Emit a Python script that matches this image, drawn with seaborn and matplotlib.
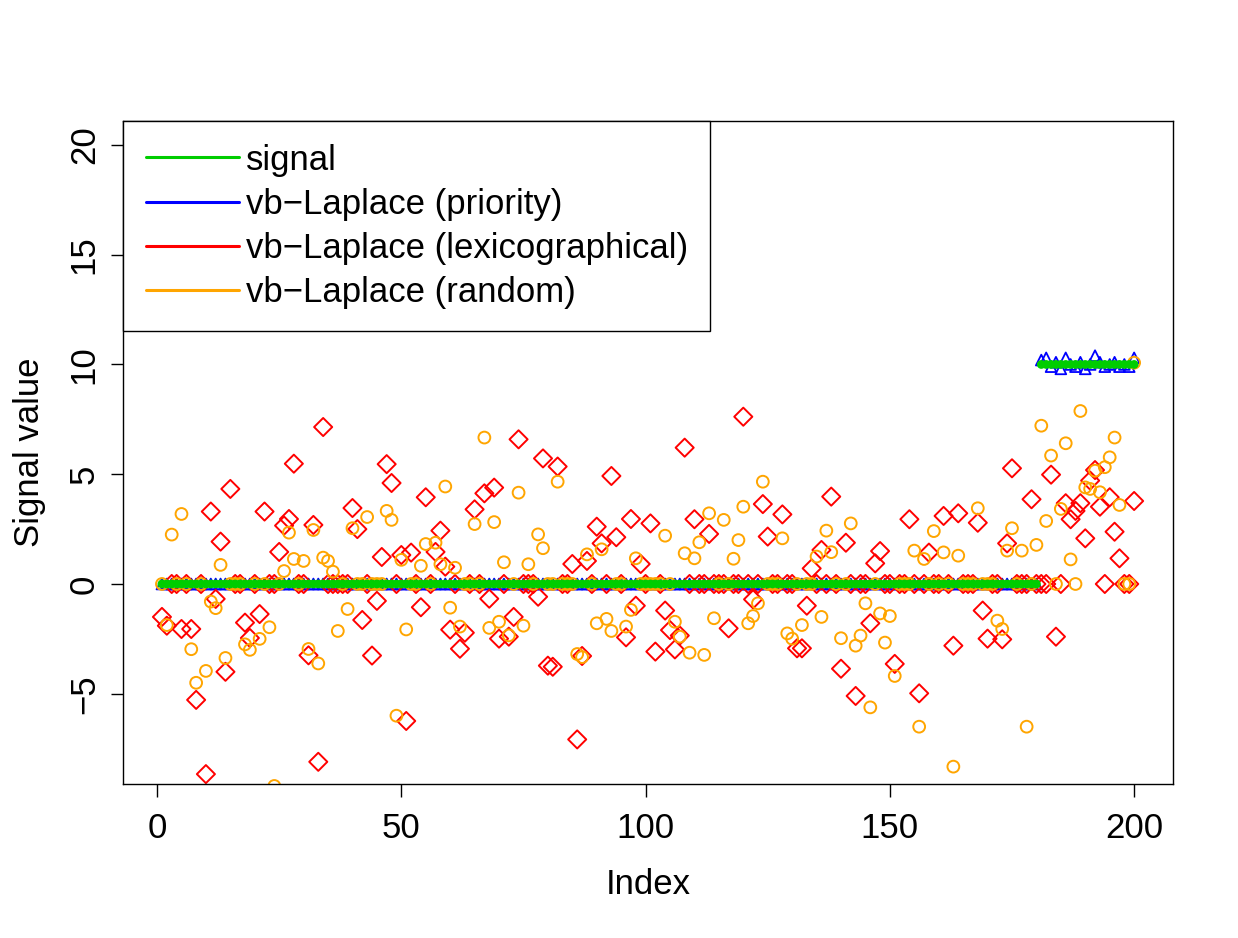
import numpy as np
import pandas as pd
import matplotlib.pyplot as plt
from matplotlib.lines import Line2D
import seaborn as sns

# index 1..200
index = list(range(1, 201))

# true signal
signal = [
    0, 0, 0, 0, 0, 0, 0, 0, 0, 0, 0, 0, 0, 0, 0, 0, 0, 0, 0, 0,
    0, 0, 0, 0, 0, 0, 0, 0, 0, 0, 0, 0, 0, 0, 0, 0, 0, 0, 0, 0,
    0, 0, 0, 0, 0, 0, 0, 0, 0, 0, 0, 0, 0, 0, 0, 0, 0, 0, 0, 0,
    0, 0, 0, 0, 0, 0, 0, 0, 0, 0, 0, 0, 0, 0, 0, 0, 0, 0, 0, 0,
    0, 0, 0, 0, 0, 0, 0, 0, 0, 0, 0, 0, 0, 0, 0, 0, 0, 0, 0, 0,
    0, 0, 0, 0, 0, 0, 0, 0, 0, 0, 0, 0, 0, 0, 0, 0, 0, 0, 0, 0,
    0, 0, 0, 0, 0, 0, 0, 0, 0, 0, 0, 0, 0, 0, 0, 0, 0, 0, 0, 0,
    0, 0, 0, 0, 0, 0, 0, 0, 0, 0, 0, 0, 0, 0, 0, 0, 0, 0, 0, 0,
    0, 0, 0, 0, 0, 0, 0, 0, 0, 0, 0, 0, 0, 0, 0, 0, 0, 0, 0, 0,
    10, 10, 10, 10, 10, 10, 10, 10, 10, 10, 10, 10, 10, 10, 10, 10, 10, 10, 10, 10,
]

# vb-Laplace (priority)
priority = [
    0, 0, 0, 0, 0, 0, 0, 0, 0, 0, 0, 0, 0, 0, 0, 0, 0, 0, 0, 0,
    0, 0, 0, 0, 0, 0, 0, 0, 0, 0, 0, 0, 0, 0, 0, 0, 0, 0, 0, 0,
    0, 0, 0, 0, 0, 0, 0, 0, 0, 0, 0, 0, 0, 0, 0, 0, 0, 0, 0, 0,
    0, 0, 0, 0, 0, 0, 0, 0, 0, 0, 0, 0, 0, 0, 0, 0, 0, 0, 0, 0,
    0, 0, 0, 0, 0, 0, 0, 0, 0, 0, 0, 0, 0, 0, 0, 0, 0, 0, 0, 0,
    0, 0, 0, 0, 0, 0, 0, 0, 0, 0, 0, 0, 0, 0, 0, 0, 0, 0, 0, 0,
    0, 0, 0, 0, 0, 0, 0, 0, 0, 0, 0, 0, 0, 0, 0, 0, 0, 0, 0, 0,
    0, 0, 0, 0, 0, 0, 0, 0, 0, 0, 0, 0, 0, 0, 0, 0, 0, 0, 0, 0,
    0, 0, 0, 0, 0, 0, 0, 0, 0, 0, 0, 0, 0, 0, 0, 0, 0, 0, 0, 0,
    10.2, 10.3, 9.9, 10.1, 9.8, 10.3, 10.0, 9.9, 10.1, 9.8,
    10.0, 10.4, 10.1, 9.9, 10.0, 10.1, 9.9, 10.0, 9.9, 10.3,
]

# vb-Laplace (lexicographical)
lexico = [
    -1.5, -1.9, 0, 0, -2.05, 0, -2.05, -5.28, 0, -8.66,
    3.3, -0.68, 1.93, -4.0, 4.33, 0, 0, -1.76, -2.46, 0,
    -1.37, 3.3, 0, 0, 1.46, 2.66, 2.96, 5.48, 0, 0,
    -3.25, 2.69, -8.1, 7.15, 0, 0, 0, 0, 0, 3.46,
    2.5, -1.64, 0, -3.26, -0.77, 1.23, 5.46, 4.6, 0, 1.32,
    -6.24, 1.43, 0, -1.06, 3.95, 0, 1.46, 2.43, 0.79, -2.08,
    0, -2.95, -2.22, 0, 3.4, 0, 4.13, -0.67, 4.39, -2.49,
    0, -2.4, -1.5, 6.59, 0, 0, 0, -0.58, 5.72, -3.72,
    -3.77, 5.35, 0, 0, 0.91, -7.08, -3.28, 1.05, 0, 2.61,
    1.85, 0, 4.92, 2.13, 0, -2.43, 2.96, -0.99, 0.91, 0,
    2.76, -3.08, 0, -1.21, -2.1, -2.98, -2.35, 6.21, 0, 2.95,
    0, 0, 2.28, 0, 0, 0, -2.02, 0, 0, 7.62,
    0, -0.7, 0, 3.64, 2.16, 0, 0, 3.17, 0, 0,
    -2.93, -2.93, -0.99, 0.71, 0, 1.55, 0, 3.98, 0, -3.86,
    1.88, 0, -5.1, 0, 0, -1.79, 0.94, 1.5, 0, 0,
    -3.64, 0, 0, 2.95, 0, -4.98, 0, 1.43, 0, 0,
    3.1, 0, -2.81, 3.22, 0, 0, 0, 2.79, -1.21, -2.49,
    0, 0, -2.52, 1.85, 5.27, 0, 0, 0, 3.86, 0,
    0, 0, 4.98, -2.4, 0, 3.68, 2.95, 3.33, 3.68, 2.08,
    4.71, 5.19, 3.52, 0, 3.95, 2.38, 1.17, 0, 0, 3.78,
]

# vb-Laplace (random)
rand_order = [
    0, -1.87, 2.25, 0, 3.19, 0, -2.97, -4.5, 0, -3.96,
    -0.8, -1.1, 0.87, -3.37, 0, 0, 0, -2.75, -3.0, 0,
    -2.5, 0, -1.97, -9.2, 0, 0.59, 2.34, 1.14, 0, 1.05,
    -2.96, 2.46, -3.62, 1.2, 1.05, 0.56, -2.14, 0, -1.14, 2.54,
    0, 0, 3.05, 0, 0, 0, 3.33, 2.92, -6.0, 1.1,
    -2.07, 0, 0, 0.83, 1.82, 0, 1.88, 0.9, 4.44, -1.08,
    0.74, -1.94, 0, 0, 2.73, 0, 6.67, -2.0, 2.82, -1.72,
    0.99, -2.34, 0, 4.16, -1.9, 0.9, 0, 2.26, 1.63, 0,
    0, 4.66, 0, 0, 0, -3.19, -3.33, 1.35, 0, -1.79,
    1.58, -1.59, -2.14, 0, 0, -1.94, -1.18, 1.17, 0, 0,
    0, 0, 0, 2.2, 0, -1.72, -2.4, 1.4, -3.13, 1.17,
    1.9, -3.23, 3.22, -1.56, 0, 2.92, 0, 1.15, 2.0, 3.52,
    -1.79, -1.46, -0.88, 4.66, 0, 0, 0, 2.08, -2.25, -2.49,
    0, -1.87, 0, 0, 1.25, -1.5, 2.43, 1.45, 0, -2.47,
    0, 2.76, -2.81, -2.35, -0.88, -5.62, 0, -1.34, -2.67, -1.46,
    -4.19, 0, 0, 0, 1.52, -6.5, 1.14, 0, 2.41, 0,
    1.44, 0, -8.32, 1.29, 0, 0, 0, 3.45, 0, 0,
    0, -1.67, -2.05, 1.52, 2.54, 0, 1.52, -6.5, 0, 1.78,
    7.21, 2.87, 5.85, 0, 3.42, 6.41, 1.12, 0, 7.88, 4.4,
    4.33, 5.16, 4.18, 5.32, 5.77, 6.67, 3.6, 0, 0, 10.08,
]

labels = ["signal", "vb\u2212Laplace (priority)",
          "vb\u2212Laplace (lexicographical)", "vb\u2212Laplace (random)"]
colors = ["#00cd00", "blue", "red", "orange"]

df = pd.DataFrame({"Index": index, "signal": signal, "priority": priority,
                   "lexico": lexico, "random": rand_order})

sns.set_style("ticks")
plt.rcParams["font.family"] = ["Liberation Sans", "DejaVu Sans"]
plt.rcParams["font.size"] = 25
plt.rcParams["text.color"] = "black"
plt.rcParams["axes.labelcolor"] = "black"
plt.rcParams["xtick.color"] = "black"
plt.rcParams["ytick.color"] = "black"

fig = plt.figure(figsize=(12.38, 9.38), dpi=100)
ax = fig.add_axes([0.0994, 0.1642, 0.8481, 0.7068])

sns.scatterplot(data=df, x="Index", y="priority", ax=ax, marker="^", s=60,
                color="blue", facecolor="none", edgecolor="blue", linewidth=1.3)
sns.scatterplot(data=df, x="Index", y="lexico", ax=ax, marker="D", s=85,
                color="red", facecolor="none", edgecolor="red", linewidth=1.4)
sns.scatterplot(data=df, x="Index", y="random", ax=ax, marker="o", s=72,
                color="orange", facecolor="none", edgecolor="orange", linewidth=1.4)
sns.scatterplot(data=df, x="Index", y="signal", ax=ax, marker="o", s=40,
                color="#00cd00", edgecolor="none", linewidth=0)

ax.set_xlim(-6.96, 207.96)
ax.set_ylim(-9.11, 21.09)
ax.set_xticks([0, 50, 100, 150, 200])
ax.set_yticks([-5, 0, 5, 10, 15, 20])
ax.set_xlabel("Index", fontsize=25, labelpad=17)
ax.set_ylabel("Signal value", fontsize=25, labelpad=16)
ax.tick_params(axis="both", length=9, width=1, labelsize=25, color="black")
ax.tick_params(axis="x", pad=11)
ax.tick_params(axis="y", pad=7)
plt.setp(ax.get_yticklabels(), rotation=90, va="center")
for sp in ax.spines.values():
    sp.set_linewidth(1)
    sp.set_color("black")

handles = [Line2D([0], [0], color=c, lw=2.2) for c in colors]
leg = ax.legend(handles, labels, loc="upper left", fontsize=25, frameon=True,
                fancybox=False, edgecolor="black", borderaxespad=0,
                borderpad=0.65, handlelength=2.68, handletextpad=0.2,
                labelspacing=0.32)
leg.get_frame().set_linewidth(1)
leg.get_frame().set_alpha(1)

fig.savefig("out.png", dpi=100)
